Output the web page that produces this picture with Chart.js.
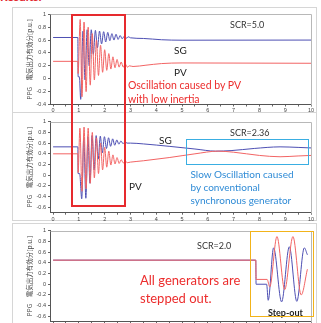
<!DOCTYPE html>
<html>
<head>
<meta charset="utf-8">
<script src="https://cdn.jsdelivr.net/npm/chart.js@4/dist/chart.umd.min.js"></script>
<style>
  html, body { margin: 0; padding: 0; background: #fff; }
  body { width: 321px; height: 323px; overflow: hidden; position: relative; font-family: Lato, "Liberation Sans", sans-serif; }
  .frame { position: absolute; border: 1px solid #d6d6d6; box-sizing: border-box; }
  canvas { position: absolute; left: 0; }
  .note { position: absolute; white-space: nowrap; line-height: 1; }
  .box { position: absolute; box-sizing: border-box; }
</style>
</head>
<body>
<div class="note" style="left:0;top:-9px;font-size:12px;font-weight:bold;color:#e3262b;">Results:</div>

<div class="frame" style="left:12px;top:7px;width:305px;height:106px;"></div>
<div class="frame" style="left:12px;top:112px;width:305px;height:109px;"></div>
<div class="frame" style="left:12px;top:223px;width:305px;height:110px;"></div>

<canvas id="c1" width="321" height="116" style="top:0;"></canvas>
<canvas id="c2" width="321" height="112" style="top:112px;"></canvas>
<canvas id="c3" width="321" height="112" style="top:223px;"></canvas>

<!-- panel 1 labels -->
<div class="note" style="left:230px;top:20px;font-size:9px;color:#333;">SCR=5.0</div>
<div class="note" style="left:174px;top:45px;font-size:10px;color:#222;">SG</div>
<div class="note" style="left:174px;top:66.5px;font-size:10px;color:#222;">PV</div>
<div class="note" style="left:128px;top:80px;font-size:10.5px;color:#ec2d2d;">Oscillation caused by PV</div>
<div class="note" style="left:128px;top:93.5px;font-size:10.5px;color:#ec2d2d;">with low inertia</div>

<!-- panel 2 labels -->
<div class="note" style="left:159px;top:135px;font-size:10px;color:#222;">SG</div>
<div class="note" style="left:230px;top:128px;font-size:9px;color:#333;">SCR=2.36</div>
<div class="note" style="left:129px;top:181px;font-size:10px;color:#222;">PV</div>
<div class="note" style="left:190.5px;top:168.5px;font-size:10px;color:#2f8bd6;">Slow Oscillation caused</div>
<div class="note" style="left:190.5px;top:182px;font-size:10px;color:#2f8bd6;">by conventional</div>
<div class="note" style="left:190.5px;top:195px;font-size:10px;color:#2f8bd6;">synchronous generator</div>

<!-- panel 3 labels -->
<div class="note" style="left:197px;top:241px;font-size:9px;color:#333;">SCR=2.0</div>
<div class="note" style="left:140px;top:273.5px;font-size:13px;color:#ec2d2d;">All generators are</div>
<div class="note" style="left:140px;top:292px;font-size:13px;color:#ec2d2d;">stepped out.</div>
<div class="note" style="left:268px;top:307.5px;font-size:9px;font-weight:bold;color:#222;">Step-out</div>

<!-- highlight boxes -->
<div class="box" style="left:71px;top:14px;width:55px;height:193px;border:2px solid #e62a2e;"></div>
<div class="box" style="left:185.5px;top:139px;width:123px;height:25.5px;border:1.5px solid #3aaee2;"></div>
<div class="box" style="left:250px;top:231px;width:63.5px;height:86px;border:1.5px solid #f2b31a;"></div>

<script>
// Panel 1: SCR = 5.0
const sg1T = [0, 0.96, 0.97, 1.02, 1.07, 1.16, 1.24, 1.32, 1.40, 1.48, 1.56, 1.64, 1.72, 1.80, 1.88, 1.96, 2.04, 2.12, 2.20, 2.28, 2.36, 2.44, 2.52, 2.60, 2.68, 2.76, 2.84, 2.92, 3.0, 3.5, 4.2, 5.0, 10];
const sg1V = [0.64, 0.64, 0.03, 0.03, -0.32, 0.74, -0.02, 0.76, 0.2, 0.76, 0.38, 0.75, 0.48, 0.74, 0.54, 0.73, 0.57, 0.72, 0.59, 0.7, 0.6, 0.69, 0.61, 0.67, 0.62, 0.66, 0.63, 0.65, 0.635, 0.625, 0.605, 0.598, 0.6];
const pv1T = [0, 0.96, 0.97, 1.05, 1.12, 1.20, 1.28, 1.36, 1.44, 1.52, 1.60, 1.68, 1.76, 1.84, 1.92, 2.00, 2.08, 2.16, 2.24, 2.32, 2.40, 2.48, 2.56, 2.64, 2.72, 2.80, 2.88, 2.96, 3.1, 3.6, 4.2, 5.0, 10];
const pv1V = [0.27, 0.27, 0.08, 0.92, -0.28, 0.88, -0.2, 0.8, -0.1, 0.7, -0.02, 0.6, 0.05, 0.52, 0.1, 0.45, 0.13, 0.39, 0.15, 0.34, 0.17, 0.3, 0.18, 0.26, 0.18, 0.23, 0.18, 0.2, 0.19, 0.21, 0.235, 0.245, 0.24];

// Panel 2: SCR = 2.36
const sg2T = [0, 0.96, 0.97, 1.03, 1.11, 1.19, 1.27, 1.35, 1.43, 1.51, 1.59, 1.67, 1.75, 1.83, 1.91, 1.99, 2.07, 2.15, 2.23, 2.31, 2.39, 2.47, 2.55, 2.63, 2.71, 2.79, 2.87, 3.0, 3.5, 4.5, 5.5, 6.3, 6.9, 7.8, 8.8, 9.5, 10];
const sg2V = [0.53, 0.53, 0.03, 0.03, -0.44, 0.7, -0.43, 0.72, -0.15, 0.74, 0.1, 0.74, 0.3, 0.73, 0.42, 0.72, 0.5, 0.7, 0.54, 0.68, 0.56, 0.66, 0.58, 0.64, 0.59, 0.62, 0.6, 0.6, 0.585, 0.54, 0.49, 0.45, 0.46, 0.5, 0.53, 0.52, 0.51];
const pv2T = [0, 0.96, 0.97, 1.04, 1.12, 1.20, 1.28, 1.36, 1.44, 1.52, 1.60, 1.68, 1.76, 1.84, 1.92, 2.00, 2.08, 2.16, 2.24, 2.32, 2.40, 2.48, 2.56, 2.64, 2.72, 2.80, 2.88, 3.0, 3.5, 4.5, 5.5, 6.4, 7.0, 8.0, 8.8, 9.5, 10];
const pv2V = [0.4, 0.4, 0.05, 0.88, -0.3, 0.9, -0.25, 0.88, -0.15, 0.8, -0.05, 0.7, 0.03, 0.6, 0.1, 0.52, 0.15, 0.45, 0.19, 0.38, 0.21, 0.33, 0.22, 0.29, 0.23, 0.26, 0.235, 0.245, 0.27, 0.33, 0.4, 0.45, 0.43, 0.37, 0.345, 0.36, 0.37];

// Panel 3: SCR = 2.0 (step-out)
const sg3T = [0, 7.86, 7.87, 8.28, 8.34, 8.55, 8.86, 9.16, 9.45, 9.74, 9.86];
const sg3V = [0.45, 0.45, 0.0, 0.0, -0.3, 0.68, -0.33, 0.7, -0.32, 0.68, 0.55];
const pv3T = [0, 7.86, 7.87, 8.30, 8.40, 8.68, 8.98, 9.30, 9.62, 9.86];
const pv3V = [0.45, 0.45, 0.09, 0.09, -0.05, 0.89, -0.1, 0.89, -0.2, 0.28];

// Axis ticks
const xMajor = [0, 1, 2, 3, 4, 5, 6, 7, 8, 9, 10];
const xMinor = [0.5, 1.5, 2.5, 3.5, 4.5, 5.5, 6.5, 7.5, 8.5, 9.5];
const yTicks1 = [-0.4, -0.2, 0, 0.2, 0.4, 0.6, 0.8, 1];
const yTicks2 = [-0.6, -0.4, -0.2, 0, 0.2, 0.4, 0.6, 0.8, 1];
const yTitle = 'PPG\u3000電気出力有効分[p.u.]';

const SG_COLOR = '#4d4fb3';
const PV_COLOR = '#f26464';

const pts = (t, v) => t.map((x, i) => ({ x: x, y: v[i] }));

// light frame on the top and right side of the plot area
const plotFrame = {
  id: 'plotFrame',
  afterDraw(chart) {
    const a = chart.chartArea, ctx = chart.ctx;
    ctx.save();
    ctx.strokeStyle = '#b8b8b8';
    ctx.lineWidth = 1;
    ctx.beginPath();
    ctx.moveTo(Math.round(a.left) + 0.5, Math.round(a.top) + 0.5);
    ctx.lineTo(Math.round(a.right) + 0.5, Math.round(a.top) + 0.5);
    ctx.lineTo(Math.round(a.right) + 0.5, Math.round(a.bottom) + 0.5);
    ctx.stroke();
    ctx.restore();
  }
};

function makeChart(id, sgT, sgV, pvT, pvV, yMin, yTicks, pad) {
  return new Chart(document.getElementById(id), {
    type: 'line',
    data: {
      datasets: [
        { label: 'PV', data: pts(pvT, pvV), borderColor: PV_COLOR, borderWidth: 1, pointRadius: 0, cubicInterpolationMode: 'monotone' },
        { label: 'SG', data: pts(sgT, sgV), borderColor: SG_COLOR, borderWidth: 1, pointRadius: 0, cubicInterpolationMode: 'monotone' }
      ]
    },
    options: {
      responsive: false,
      animation: false,
      events: [],
      layout: { padding: pad },
      plugins: { legend: { display: false }, tooltip: { enabled: false } },
      scales: {
        x: {
          type: 'linear',
          min: -0.12,
          max: 10,
          afterBuildTicks: s => { s.ticks = xMajor.concat(xMinor).sort((a, b) => a - b).map(v => ({ value: v })); },
          afterFit: s => { s.height = 10; },
          grid: { drawOnChartArea: false, drawTicks: true, tickLength: 2, color: '#666' },
          border: { display: true, color: '#555', width: 1 },
          ticks: {
            autoSkip: false, maxRotation: 0, padding: 1, color: '#444',
            font: { size: 5.5, family: '"Liberation Sans", sans-serif' },
            callback: v => (xMajor.includes(v) ? String(v) : '')
          }
        },
        y: {
          min: yMin,
          max: 1,
          afterBuildTicks: s => { s.ticks = yTicks.map(v => ({ value: v })); },
          afterFit: s => { s.width = 24; },
          grid: { drawOnChartArea: false, drawTicks: true, tickLength: 2, color: '#666' },
          border: { display: true, color: '#555', width: 1 },
          ticks: {
            padding: 2, color: '#444',
            font: { size: 5.5, family: '"Liberation Sans", sans-serif' },
            callback: v => String(Math.round(v * 10) / 10)
          },
          title: {
            display: true, text: yTitle, color: '#444', padding: 0,
            font: { size: 6.5, family: '"Noto Sans CJK JP", sans-serif' }
          }
        }
      }
    },
    plugins: [plotFrame]
  });
}

makeChart('c1', sg1T, sg1V, pv1T, pv1V, -0.4, yTicks1, { left: 26, right: 10, top: 14.3, bottom: 1.5 });
makeChart('c2', sg2T, sg2V, pv2T, pv2V, -0.7, yTicks2, { left: 26, right: 10, top: 9.7, bottom: 1.3 });
makeChart('c3', sg3T, sg3V, pv3T, pv3V, -0.7, yTicks2, { left: 26, right: 10, top: 7.7, bottom: 3.3 });
</script>
</body>
</html>
